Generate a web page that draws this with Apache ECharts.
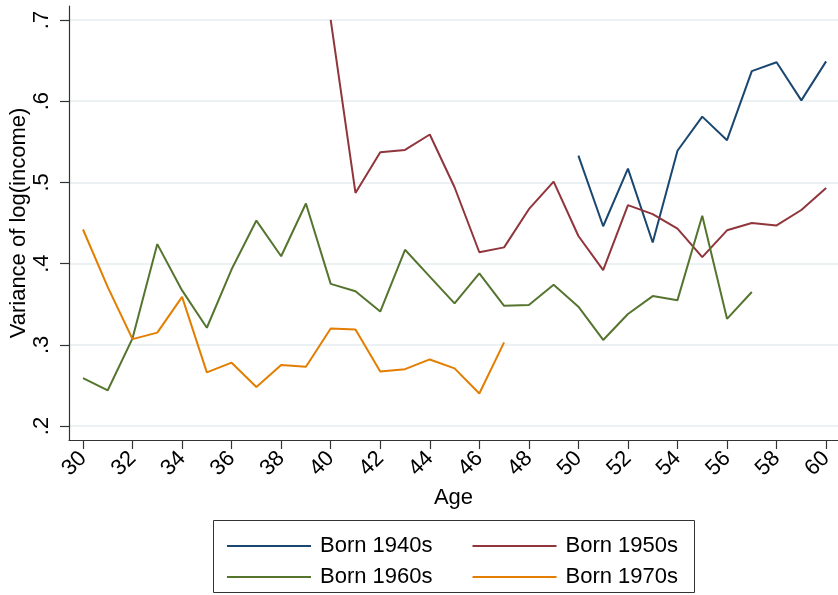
<!DOCTYPE html>
<html>
<head>
<meta charset="utf-8">
<script src="https://cdn.jsdelivr.net/npm/echarts@6/dist/echarts.min.js"></script>
<style>
  html, body { margin: 0; padding: 0; background: #ffffff; }
  #chart { width: 838px; height: 595px; }
</style>
</head>
<body>
<div id="chart"></div>
<script>
// Age grid shared by all cohorts
const ages = [30,31,32,33,34,35,36,37,38,39,40,41,42,43,44,45,46,47,48,49,50,51,52,53,54,55,56,57,58,59,60];

// Variance of log income by age, one array per birth cohort (null = not observed)
const born1940s = [null,null,null,null,null,null,null,null,null,null,
  null,null,null,null,null,null,null,null,null,null,
  0.533,0.446,0.517,0.426,0.539,0.581,0.552,0.637,0.648,0.601,0.649];
const born1950s = [null,null,null,null,null,null,null,null,null,null,
  0.700,0.487,0.537,0.540,0.559,0.494,0.414,0.420,0.467,0.501,
  0.434,0.392,0.472,0.461,0.443,0.408,0.441,0.450,0.447,0.466,0.493];
const born1960s = [0.259,0.244,0.308,0.424,0.367,0.321,0.393,0.453,0.409,0.474,
  0.375,0.366,0.341,0.417,0.384,0.351,0.388,0.348,0.349,0.374,
  0.347,0.306,0.338,0.360,0.355,0.459,0.332,0.365,null,null,null];
const born1970s = [0.442,0.371,0.307,0.315,0.359,0.266,0.278,0.248,0.275,0.273,
  0.320,0.319,0.267,0.270,0.282,0.271,0.240,0.303,null,null,
  null,null,null,null,null,null,null,null,null,null,null];

const seriesNames = ['Born 1940s', 'Born 1950s', 'Born 1960s', 'Born 1970s'];
const seriesColors = ['#1a476f', '#90353b', '#55752f', '#e37e00'];
const xTicks = [30,32,34,36,38,40,42,44,46,48,50,52,54,56,58,60];
const yTicks = [0.2, 0.3, 0.4, 0.5, 0.6, 0.7];

const FONT = 'Liberation Sans';
const FS = 22;

function pairs(vals) {
  const out = [];
  ages.forEach((a, i) => { if (vals[i] !== null) out.push([a, vals[i]]); });
  return out;
}

const allSeries = [born1940s, born1950s, born1960s, born1970s].map((vals, i) => ({
  name: seriesNames[i],
  type: 'line',
  xAxisIndex: 0,
  yAxisIndex: 0,
  data: pairs(vals),
  symbol: 'none',
  showSymbol: false,
  lineStyle: { color: seriesColors[i], width: 2 },
  itemStyle: { color: seriesColors[i] },
  z: 3,
  animation: false
}));

const legendCommon = {
  left: 222,
  orient: 'horizontal',
  icon: 'rect',
  itemWidth: 84,
  itemHeight: 2,
  itemGap: 40,
  textStyle: { fontFamily: FONT, fontSize: FS, color: '#000000', padding: [0, 0, 0, 4] },
  selectedMode: false
};

const chart = echarts.init(document.getElementById('chart'), null, { renderer: 'canvas' });
chart.setOption({
  backgroundColor: '#ffffff',
  animation: false,
  textStyle: { fontFamily: FONT },
  grid: [
    { left: 69, right: 0, top: 6, bottom: 155, containLabel: false, outerBoundsMode: 'none' },
    { left: 69, right: 0, top: 20, bottom: 169, containLabel: false, outerBoundsMode: 'none' }
  ],
  xAxis: [
    {
      type: 'value', gridIndex: 0,
      min: 29.435, max: 60.48,
      name: 'Age', nameLocation: 'middle', nameGap: 47, nameMoveOverlap: false,
      nameTextStyle: { fontFamily: FONT, fontSize: FS, color: '#000000' },
      axisLine: { show: true, onZero: false, lineStyle: { color: '#333333', width: 1.2 } },
      axisTick: { show: true, length: 9, customValues: xTicks, lineStyle: { color: '#333333', width: 1.2 } },
      axisLabel: { show: true, customValues: xTicks, rotate: 45, margin: 15, fontFamily: FONT, fontSize: FS, color: '#000000' },
      splitLine: { show: false }
    },
    {
      type: 'value', gridIndex: 1, min: 29.435, max: 60.48, show: false
    }
  ],
  yAxis: [
    {
      type: 'value', gridIndex: 0,
      min: 0.1828, max: 0.7172,
      name: 'Variance of log(income)', nameLocation: 'middle', nameGap: 39, nameRotate: 90,
      nameMoveOverlap: false,
      nameTextStyle: { fontFamily: FONT, fontSize: FS, color: '#000000' },
      axisLine: { show: true, onZero: false, lineStyle: { color: '#333333', width: 1.2 } },
      axisTick: { show: true, length: 9, customValues: yTicks, lineStyle: { color: '#333333', width: 1.2 } },
      axisLabel: {
        show: true, customValues: yTicks, rotate: 90, margin: 16,
        fontFamily: FONT, fontSize: FS, color: '#000000',
        formatter: v => String(Math.round(v * 10) / 10).replace(/^0\./, '.')
      },
      splitLine: { show: false }
    },
    {
      type: 'value', gridIndex: 1,
      min: 0.2, max: 0.7, interval: 0.1,
      axisLine: { show: false }, axisTick: { show: false }, axisLabel: { show: false },
      splitLine: { show: true, lineStyle: { color: '#e6eef1', width: 1.5 } }
    }
  ],
  legend: [
    Object.assign({}, legendCommon, { top: 530, data: ['Born 1940s', 'Born 1950s'] }),
    Object.assign({}, legendCommon, { top: 561, data: ['Born 1960s', 'Born 1970s'] })
  ],
  graphic: [
    {
      type: 'rect', z: 0,
      shape: { x: 213.5, y: 520.5, width: 481, height: 72 },
      style: { fill: '#ffffff', stroke: '#333333', lineWidth: 1 }
    }
  ],
  series: allSeries
});
</script>
</body>
</html>
